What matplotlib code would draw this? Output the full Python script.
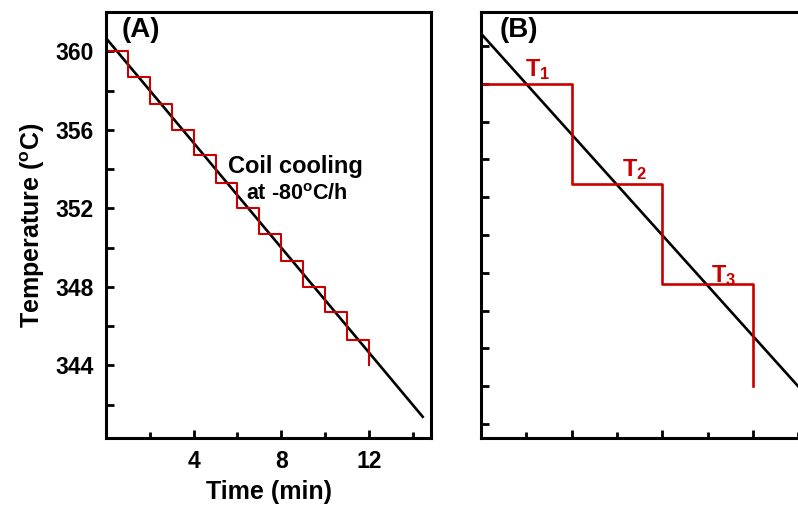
import matplotlib
matplotlib.use("Agg")
import matplotlib.pyplot as plt
from matplotlib.ticker import MultipleLocator, NullFormatter

plt.rcParams['font.family'] = ['Liberation Sans', 'DejaVu Sans']
plt.rcParams['font.weight'] = 'bold'
plt.rcParams['mathtext.fontset'] = 'custom'
plt.rcParams['mathtext.rm'] = 'Liberation Sans:bold'
plt.rcParams['mathtext.bf'] = 'Liberation Sans:bold'
plt.rcParams['mathtext.it'] = 'Liberation Sans:bold'

# Panel A data
stair_time_A = [0, 1, 2, 3, 4, 5, 6, 7, 8, 9, 10, 11, 12]
stair_temp_A = [360.0, 358.7, 357.3, 356.0, 354.7, 353.3, 352.0, 350.7, 349.3, 348.0, 346.7, 345.3, 344.0]
line_time_A = [0, 14.5]
line_temp_A = [360.67, 341.33]

# Panel B data (schematic)
stair_x_B = [0, 2, 4, 6]
stair_y_B = [10.0, 7.35, 4.7, 2.0]
line_x_B = [0, 7.6]
line_y_B = [11.33, 1.2]
step_labels_B = ['T$_{1}$', 'T$_{2}$', 'T$_{3}$']
step_label_pos_B = [(1.24, 10.37), (3.4, 7.72), (5.36, 4.92)]

RED = '#c80000'
W, H = 798, 505
fig = plt.figure(figsize=(W / 100, H / 100), dpi=100)

def ax_rect(l, r, t, b):
    return [l / W, (H - b) / H, (r - l) / W, (b - t) / H]

axA = fig.add_axes(ax_rect(106, 431, 12, 438))
axB = fig.add_axes(ax_rect(481, 830, 12, 438))

for ax in (axA, axB):
    for s in ax.spines.values():
        s.set_linewidth(2.2)

# ---- Panel A ----
axA.plot(line_time_A, line_temp_A, color='black', lw=1.9, solid_capstyle='butt')
axA.plot(stair_time_A, stair_temp_A, drawstyle='steps-post', color=RED, lw=1.5)
axA.set_xlim(0, 14.84)
axA.set_ylim(340.3, 362.0)
axA.xaxis.set_major_locator(MultipleLocator(4))
axA.xaxis.set_minor_locator(MultipleLocator(2))
axA.yaxis.set_major_locator(MultipleLocator(4))
axA.yaxis.set_minor_locator(MultipleLocator(2))
axA.set_xticks([4, 8, 12])
axA.tick_params(axis='both', which='both', direction='in', width=2.0, labelsize=16.5, pad=9)
axA.tick_params(axis='x', which='major', length=6)
axA.tick_params(axis='x', which='minor', length=4)
axA.tick_params(axis='y', which='both', length=6)
axA.set_xlabel('Time (min)', fontsize=18, fontweight='bold', labelpad=5)
axA.set_ylabel('Temperature ($^{\\mathbf{o}}$C)', fontsize=18, fontweight='bold', labelpad=6)
axA.text(1.6, 361.1, '(A)', fontsize=20, fontweight='bold', ha='center', va='center')
axA.text(8.63, 354.12, 'Coil cooling', fontsize=17, fontweight='bold', ha='center', va='center')
axA.text(8.72, 352.69, 'at -80$^{\\mathbf{o}}$C/h', fontsize=15.5, fontweight='bold', ha='center', va='center')

# ---- Panel B ----
axB.plot(line_x_B, line_y_B, color='black', lw=1.9, solid_capstyle='butt')
axB.plot(stair_x_B, stair_y_B, drawstyle='steps-post', color=RED, lw=1.9)
axB.set_xlim(0, (830 - 481) / 45.3)
axB.set_ylim(0.63, 11.9)
axB.xaxis.set_major_locator(MultipleLocator(2))
axB.xaxis.set_minor_locator(MultipleLocator(1))
axB.yaxis.set_major_locator(MultipleLocator(1))
axB.xaxis.set_major_formatter(NullFormatter())
axB.yaxis.set_major_formatter(NullFormatter())
axB.tick_params(axis='both', which='both', direction='in', width=2.0)
axB.tick_params(axis='x', which='major', length=6)
axB.tick_params(axis='x', which='minor', length=4)
axB.tick_params(axis='y', which='major', length=6)
axB.text(0.84, 11.42, '(B)', fontsize=20, fontweight='bold', ha='center', va='center')
for lab, (x, y) in zip(step_labels_B, step_label_pos_B):
    axB.text(x, y, lab, fontsize=17, fontweight='bold', color=RED, ha='center', va='center')

fig.savefig('out.png', dpi=100)
